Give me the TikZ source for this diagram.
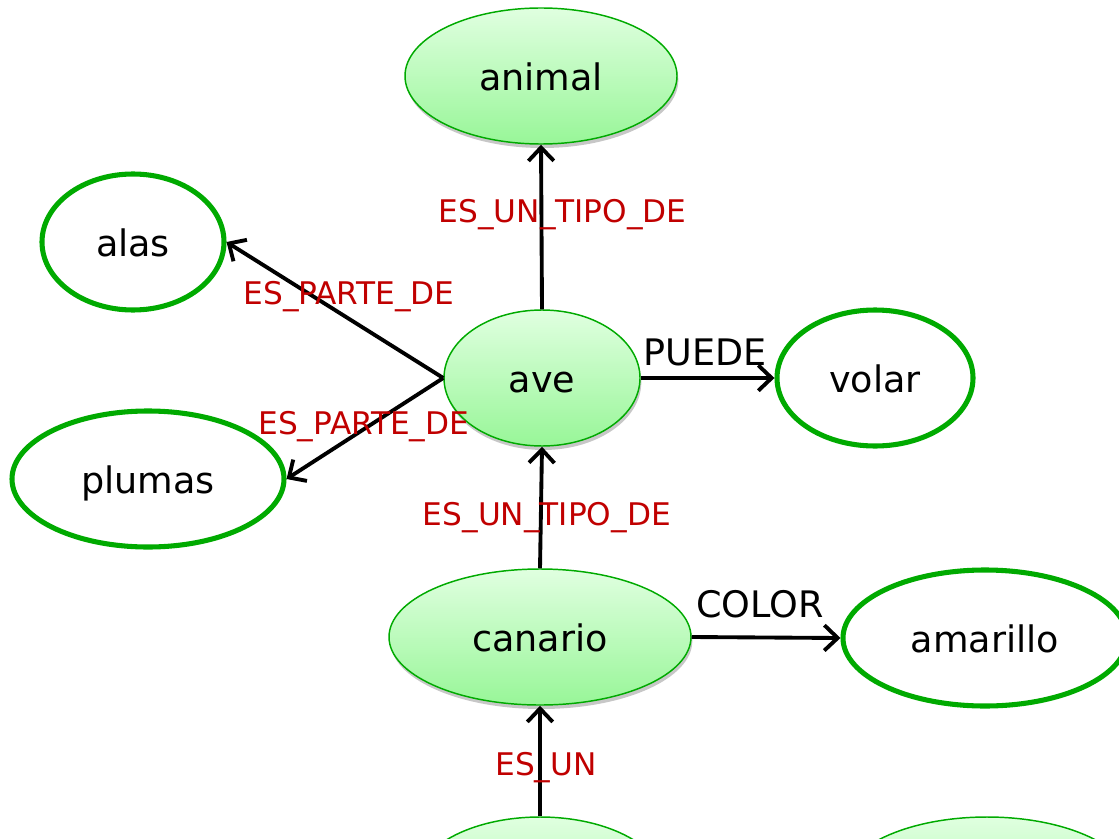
\documentclass[tikz,border=0pt]{standalone}
\usepackage{fontspec}
\setmainfont{DejaVu Sans}
\usetikzlibrary{shapes.geometric,arrows.meta,shadows}
\definecolor{gline}{RGB}{0,170,0}
\definecolor{gtop}{RGB}{224,255,224}
\definecolor{gbot}{RGB}{152,246,152}
\definecolor{lred}{RGB}{192,0,0}
\tikzset{
  conc/.style={ellipse, inner sep=0pt, minimum height=102pt,
    font=\fontsize{27.4}{32}\selectfont, text height=22pt, text depth=0pt},
  filled/.style={conc, draw=gline, line width=1.1pt, top color=gtop, bottom color=gbot,
    drop shadow={shadow xshift=1pt, shadow yshift=-3pt, opacity=0.22, fill=black}},
  open/.style={conc, draw=gline, line width=3.8pt, fill=white},
  rel/.style={line width=2.9pt, -{Straight Barb[length=10pt,width=19pt,line width=2.9pt]}},
  redlbl/.style={font=\fontsize{23.4}{28}\selectfont, text=lred, text depth=0pt, inner sep=0pt},
  blklbl/.style={font=\fontsize{27.4}{32}\selectfont, text=black, text depth=0pt, inner sep=0pt}
}
\begin{document}
\begin{tikzpicture}[x=0.75pt,y=-0.75pt]
\useasboundingbox (0,0) rectangle (1119,838);
\clip (0,0) rectangle (1119,838);
\node[filled, minimum width=204pt] (animal) at (541,76) {animal};
\node[open, minimum width=136.5pt] (alas) at (133,242) {alas};
\node[filled, minimum width=147pt] (ave) at (542,378) {ave};
\node[open, minimum width=147pt] (volar) at (875,378) {volar};
\node[open, minimum width=204pt] (plumas) at (148,479) {plumas};
\node[filled, minimum width=226.5pt] (canario) at (540,637) {canario};
\node[open, minimum width=213pt] (amarillo) at (985,638) {amarillo};
\node[filled, minimum width=187.5pt] (b1) at (540,885) {};
\node[filled, minimum width=217.5pt] (b2) at (987,885) {};

\draw[rel] (ave.north) -- node[redlbl, pos=0.6, xshift=16pt] (l1) {ES\_UN\_TIPO\_DE} (animal.south);
\draw[rel] (ave.west) -- node[redlbl, pos=0.49, xshift=9pt, yshift=14pt] (l2) {ES\_PARTE\_DE} (alas.east);
\draw[rel] (ave.west) -- node[redlbl, pos=0.49, xshift=-2pt, yshift=3.3pt] (l3) {ES\_PARTE\_DE} (plumas.east);
\draw[rel] (ave.east) -- node[blklbl, pos=0.48, yshift=19.5pt] (l4) {PUEDE} (volar.west);
\draw[rel] (canario.north) -- node[redlbl, pos=0.45, xshift=4.5pt] (l5) {ES\_UN\_TIPO\_DE} (ave.south);
\draw[rel] (canario.east) -- node[blklbl, pos=0.46, yshift=25.5pt] (l6) {COLOR} (amarillo.west);
\draw[rel] (b1.north) -- node[redlbl, pos=0.47, xshift=4.5pt] (l7) {ES\_UN} (canario.south);
\end{tikzpicture}
\end{document}
